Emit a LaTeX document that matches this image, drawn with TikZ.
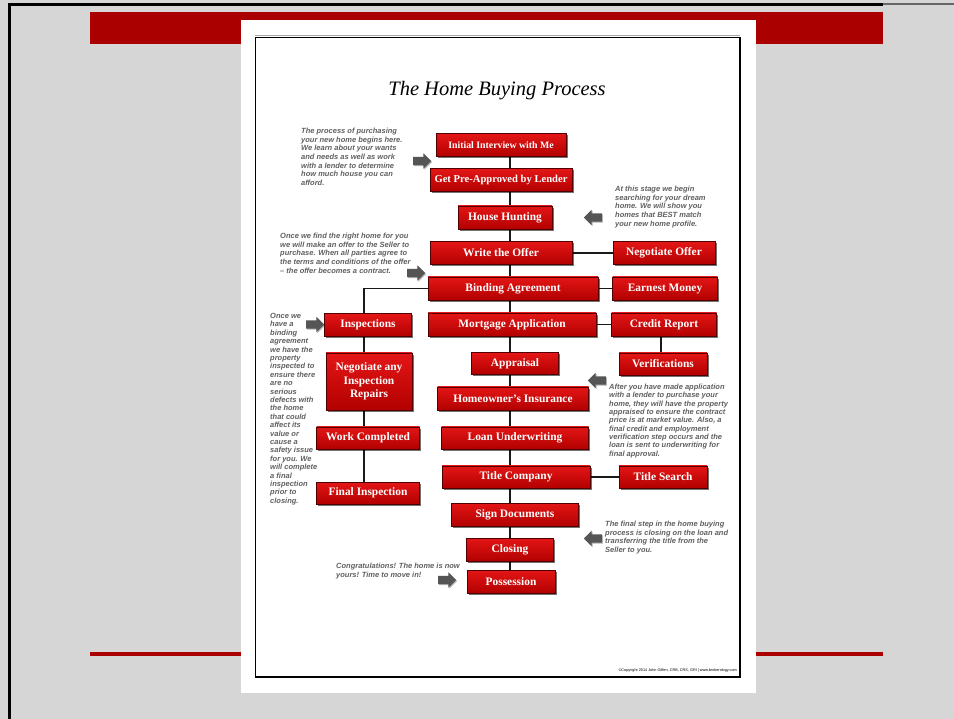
\documentclass[tikz,border=0pt]{standalone}
\usepackage{fontspec}
\setmainfont{Liberation Serif}
\newfontfamily\annfont{Liberation Sans}
\usetikzlibrary{shapes.arrows,shadows,calc}
\pgfdeclarelayer{bglayer}
\pgfdeclarelayer{linelayer}
\pgfsetlayers{bglayer,linelayer,main}
\definecolor{bggray}{RGB}{214,214,214}
\definecolor{bandred}{RGB}{170,0,0}
\definecolor{boxtop}{RGB}{228,22,22}
\definecolor{boxbot}{RGB}{178,0,0}
\definecolor{boxedge}{RGB}{80,0,0}
\definecolor{anngray}{RGB}{96,96,96}
\definecolor{arrgray}{RGB}{85,85,85}
\begin{document}
\begin{tikzpicture}[x=1pt,y=-1pt,
  redbox/.style={draw=boxedge, line width=0.6pt, top color=boxtop, bottom color=boxbot,
    text=white, font=\bfseries\fontsize{11.4}{13.6}\selectfont, minimum height=23pt,
    inner sep=0pt, align=center,
    drop shadow={shadow xshift=1.6pt, shadow yshift=-1.6pt, opacity=0.55, fill=black}},
  anntext/.style={anchor=north west, align=left, inner sep=0pt, text=anngray,
    font=\annfont\bfseries\itshape\fontsize{7.5}{8.6}\selectfont},
  blockarrow/.style={single arrow, fill=arrgray, draw=none, minimum height=18pt,
    inner xsep=0pt, inner ysep=4pt, single arrow head extend=3.5pt,
    drop shadow={shadow xshift=1pt, shadow yshift=-1pt, opacity=0.3, fill=black}},
  conn/.style={draw=black!90, line width=1.2pt}
]
\useasboundingbox (0,0) rectangle (954,719);
\begin{pgfonlayer}{bglayer}
  \fill[bggray] (0,0) rectangle (954,719);
  \fill[black] (8,3) rectangle (883,6);
  \fill[black!60] (883,3.5) rectangle (954,5.5);
  \fill[black] (8,3) rectangle (10.5,719);
  \fill[bandred] (90,12) rectangle (883,44);
  \fill[bandred] (90,652) rectangle (883,655.5);
  \fill[white] (241,20) rectangle (756,693);
  \draw[black!35, line width=0.8pt] (255,35) -- (740,35);
  \draw[black, line width=1.1pt] (255.5,37.5) rectangle (740,677);
\end{pgfonlayer}

\node[font=\itshape\fontsize{20.5}{24}\selectfont, inner sep=0pt] (ttl) at (497,91) {The Home Buying Process};

\node[redbox, minimum width=130pt, font=\bfseries\fontsize{9.8}{12}\selectfont] (init) at (501,145) {Initial Interview with Me};
\node[redbox, minimum width=142pt, font=\bfseries\fontsize{10.6}{12}\selectfont] (preapp) at (501,180) {Get Pre-Approved by Lender};
\node[redbox, minimum width=94pt] (hunt) at (505,217.5) {House Hunting};
\node[redbox, minimum width=142pt] (offer) at (501,253) {Write the Offer};
\node[redbox, minimum width=102pt] (negoff) at (664,253) {Negotiate Offer};
\node[redbox, minimum width=170pt] (bind) at (513,288.5) {Binding Agreement};
\node[redbox, minimum width=105pt] (earnest) at (665,288.5) {Earnest Money};
\node[redbox, minimum width=87pt] (insp) at (368,325) {Inspections};
\node[redbox, minimum width=168pt] (mort) at (512,324.5) {Mortgage Application};
\node[redbox, minimum width=105pt] (credit) at (664,324.5) {Credit Report};
\node[redbox, minimum width=87pt, minimum height=22pt] (appr) at (515,363.5) {Appraisal};
\node[redbox, minimum width=88pt, minimum height=22pt] (verif) at (663,364) {Verifications};
\node[redbox, minimum width=86pt, minimum height=57pt] (negrep) at (369,381.5) {Negotiate any\\Inspection\\Repairs};
\node[redbox, minimum width=151pt] (hoi) at (513,398.5) {Homeowner’s Insurance};
\node[redbox, minimum width=103pt, minimum height=22pt] (work) at (368,438) {Work Completed};
\node[redbox, minimum width=147pt, minimum height=22pt] (loan) at (515,438) {Loan Underwriting};
\node[redbox, minimum width=148pt, minimum height=22pt] (title) at (516,477) {Title Company};
\node[redbox, minimum width=88pt, minimum height=22pt] (tsearch) at (663,477) {Title Search};
\node[redbox, minimum width=103pt, minimum height=22pt] (final) at (368,493) {Final Inspection};
\node[redbox, minimum width=127pt] (sign) at (515,514.5) {Sign Documents};
\node[redbox, minimum width=87pt] (closing) at (510,549.5) {Closing};
\node[redbox, minimum width=88pt] (possess) at (511,581.5) {Possession};

\coordinate (tx) at (510,0);
\coordinate (lx) at (364,0);
\coordinate (rx) at (661,0);
\begin{pgfonlayer}{linelayer}
  \draw[conn] (init.south -| tx) -- (possess.north -| tx);
  \draw[conn] (offer.east) -- (negoff.west);
  \draw[conn] (bind.east) -- (earnest.west);
  \draw[conn] (mort.east) -- (credit.west);
  \draw[conn] (title.east) -- (tsearch.west);
  \draw[conn] (bind.west) -| (insp.north -| lx);
  \draw[conn] (insp.south -| lx) -- (final.north -| lx);
  \draw[conn] (credit.south -| rx) -- (verif.north -| rx);
\end{pgfonlayer}

\node[blockarrow] (a1) at (420,161) {};
\node[blockarrow, shape border rotate=180] (a2) at (595,217.5) {};
\node[blockarrow] (a3) at (414,273) {};
\node[blockarrow] (a4) at (313,324.5) {};
\node[blockarrow, shape border rotate=180] (a5) at (599,380.5) {};
\node[blockarrow, shape border rotate=180] (a6) at (595,538.5) {};
\node[blockarrow] (a7) at (445,580) {};

\node[anntext] (t1) at (301,128) {The process of purchasing\\your new home begins here.\\We learn about your wants\\and needs as well as work\\with a lender to determine\\how much house you can\\afford.};
\node[anntext] (t2) at (615,186) {At this stage we begin\\searching for your dream\\home.  We will show you\\homes that BEST match\\your new home profile.};
\node[anntext] (t3) at (280,233) {Once we find the right home for you\\we will make an offer to the Seller to\\purchase.  When all parties agree to\\the terms and conditions of the offer\\– the offer becomes a contract.};
\node[anntext, font=\annfont\bfseries\itshape\fontsize{7.5}{8.4}\selectfont] (t4) at (270,313) {Once we\\have a\\binding\\agreement\\we have the\\property\\inspected to\\ensure there\\are no\\serious\\defects with\\the home\\that could\\affect its\\value or\\cause a\\safety issue\\for you.  We\\will complete\\a final\\inspection\\prior to\\closing.};
\node[anntext, font=\annfont\bfseries\itshape\fontsize{7.5}{8.3}\selectfont] (t5) at (609,384) {After you have made application\\with a lender to purchase your\\home, they will have the property\\appraised to ensure the contract\\price is at market value. Also, a\\final credit and employment\\verification step occurs and the\\loan is sent to underwriting for\\final approval.};
\node[anntext] (t6) at (605,521) {The final step in the home buying\\process is closing on the loan and\\transferring the title from the\\Seller to you.};
\node[anntext] (t7) at (336,563) {Congratulations! The home is now\\yours!  Time to move in!};
\node[anchor=east, inner sep=0pt, font=\annfont\fontsize{3.8}{4.5}\selectfont] (copy) at (737,671) {©Copyright 2014 John Giffen, CRB, CRS, GRI | www.brokerology.com};
\end{tikzpicture}
\end{document}
